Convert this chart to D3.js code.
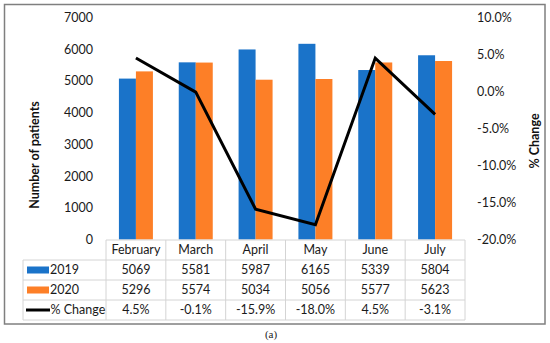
<!DOCTYPE html>
<html><head><meta charset="utf-8">
<script src="https://cdn.jsdelivr.net/npm/d3@7"></script>
<style>body{margin:0;background:#fff;} text{font-family:Lato, "Open Sans", sans-serif;}</style>
</head><body>
<svg id="c" width="550" height="343"></svg>
<script>
const months = ["February","March","April","May","June","July"];
const v2019 = [5069,5581,5987,6165,5339,5804];
const v2020 = [5296,5574,5034,5056,5577,5623];
const pct = [4.5,-0.1,-15.9,-18.0,4.5,-3.1];
const leftTicks = [0,1000,2000,3000,4000,5000,6000,7000];
const rightTicks = [-20,-15,-10,-5,0,5,10];
const seriesNames = ["2019","2020","% Change"];
const colors = {"2019":"#1a73c9","2020":"#fd7f27","% Change":"#000"};

const fmtPct = d => d3.format(".1f")(d).replace("\u2212","-") + "%";

const svg = d3.select("#c");
const X0 = 106, X1 = 465, Y0 = 239.5, Y1 = 17.3;
const x = d3.scaleBand().domain(months).range([X0, X1]);
const xs = d3.scaleBand().domain(["2019","2020"]).range([0, x.bandwidth()]).paddingOuter(0.76).paddingInner(0);
const yL = d3.scaleLinear().domain([0,7000]).range([Y0, Y1]);
const yR = d3.scaleLinear().domain([-20,10]).range([Y0, Y1]);

// frame
svg.append("rect").attr("x",4.5).attr("y",4.5).attr("width",540.5).attr("height",319.5)
  .attr("fill","none").attr("stroke","#7f7f7f").attr("stroke-width",1.5);

// bars
const data = [v2019, v2020];
["2019","2020"].forEach((s,si)=>{
  svg.append("g").selectAll("rect").data(months).join("rect")
    .attr("x", d=>x(d)+xs(s))
    .attr("width", xs.bandwidth())
    .attr("y", (d,i)=>yL(data[si][i]))
    .attr("height", (d,i)=>yL(0)-yL(data[si][i]))
    .attr("fill", colors[s]);
});

// line
const line = d3.line().x((d,i)=>x(months[i])+x.bandwidth()/2).y(d=>yR(d));
svg.append("path").datum(pct).attr("d", line).attr("fill","none")
  .attr("stroke","#000").attr("stroke-width",3).attr("stroke-linejoin","miter");

// left axis
const gl = svg.append("g").attr("transform",`translate(93,0)`)
  .call(d3.axisLeft(yL).tickValues(leftTicks).tickSize(0).tickPadding(0).tickFormat(d3.format("d")));
gl.select(".domain").remove();
gl.selectAll("text").attr("font-size",12.5).attr("fill","#1a1a1a").style("font-family","Lato");

// right axis
const gr = svg.append("g").attr("transform",`translate(477,0)`)
  .call(d3.axisRight(yR).tickValues(rightTicks).tickSize(0).tickPadding(0).tickFormat(fmtPct));
gr.select(".domain").remove();
gr.selectAll("text").attr("font-size",12.5).attr("fill","#1a1a1a").style("font-family","Lato");

// axis titles
svg.append("text").attr("transform","translate(39,155) rotate(-90)").attr("text-anchor","middle")
  .attr("font-size",12.5).attr("font-weight","bold").attr("fill","#111").text("Number of patients");
svg.append("text").attr("transform","translate(539,141) rotate(-90)").attr("text-anchor","middle")
  .attr("font-size",12.5).attr("font-weight","bold").attr("fill","#111").text("% Change");

// data table
const rowY = [240,260,280,300,320];
const LX = 23;
const tg = svg.append("g").attr("stroke","#d4d4d4").attr("stroke-width",1).attr("fill","none");
tg.append("line").attr("x1",X0).attr("x2",X1).attr("y1",rowY[0]).attr("y2",rowY[0]);
for (let r=1;r<rowY.length;r++) tg.append("line").attr("x1",LX).attr("x2",X1).attr("y1",rowY[r]).attr("y2",rowY[r]);
tg.append("line").attr("x1",LX).attr("x2",LX).attr("y1",rowY[1]).attr("y2",rowY[4]);
months.forEach(m=>tg.append("line").attr("x1",x(m)).attr("x2",x(m)).attr("y1",rowY[0]).attr("y2",rowY[4]));
tg.append("line").attr("x1",X1).attr("x2",X1).attr("y1",rowY[0]).attr("y2",rowY[4]);

const cell = (tx,ty,t,anchor)=>svg.append("text").attr("x",tx).attr("y",ty).attr("dy","0.35em")
  .attr("text-anchor",anchor||"middle").attr("font-size",12.5).attr("fill","#1a1a1a").text(t);
months.forEach((m,i)=>{
  const cx = x(m)+x.bandwidth()/2;
  cell(cx, 250, m);
  cell(cx, 270, String(v2019[i]));
  cell(cx, 290, String(v2020[i]));
  cell(cx, 310, fmtPct(pct[i]));
});
// legend keys
svg.append("rect").attr("x",27).attr("y",266.5).attr("width",22).attr("height",7).attr("fill",colors["2019"]);
svg.append("rect").attr("x",27).attr("y",286.5).attr("width",22).attr("height",7).attr("fill",colors["2020"]);
svg.append("line").attr("x1",26).attr("x2",50).attr("y1",310).attr("y2",310).attr("stroke","#000").attr("stroke-width",3);
cell(50,270,seriesNames[0],"start");
cell(50,290,seriesNames[1],"start");
cell(50.5,310,seriesNames[2],"start");

// caption
svg.append("text").attr("x",271).attr("y",334).attr("dy","0.35em").attr("text-anchor","middle")
  .attr("font-size",11).style("font-family","Liberation Serif, serif").attr("fill","#222").text("(a)");
</script>
</body></html>
